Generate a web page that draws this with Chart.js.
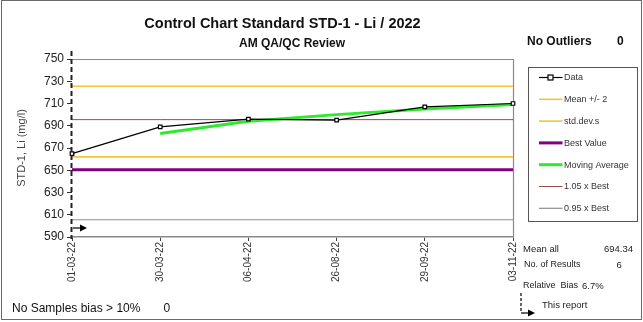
<!DOCTYPE html>
<html>
<head>
<meta charset="utf-8">
<script src="https://cdn.jsdelivr.net/npm/chart.js@4/dist/chart.umd.min.js"></script>
<style>
  html, body { margin: 0; padding: 0; background: #fff; }
  #wrap { position: relative; width: 643px; height: 322px; overflow: hidden; font-family: "Liberation Sans", Arial, sans-serif; color: #111; }
  #c { position: absolute; left: 0; top: 0; }
  .t { position: absolute; white-space: pre; line-height: 1; }
  .s { font-size: 9px; color: #222; }
</style>
</head>
<body>
<div id="wrap">
  <canvas id="c" width="643" height="322"></canvas>
  <div class="t" style="left:0;width:565px;text-align:center;top:15.5px;font-size:14.5px;font-weight:bold;">Control Chart Standard STD-1 - Li / 2022</div>
  <div class="t" style="left:0;width:584px;text-align:center;top:37px;font-size:12px;font-weight:bold;">AM QA/QC Review</div>
  <div class="t" style="left:527px;top:35px;font-size:12px;font-weight:bold;">No Outliers</div>
  <div class="t" style="left:617px;top:35px;font-size:12px;font-weight:bold;">0</div>
  <div class="t s" style="left:523px;top:244px;font-size:9.5px;">Mean all</div>
  <div class="t s" style="right:10px;top:244px;font-size:9.5px;">694.34</div>
  <div class="t s" style="left:524px;top:260px;">No. of Results</div>
  <div class="t s" style="left:616.5px;top:260px;font-size:9.5px;">6</div>
  <div class="t s" style="left:523px;top:280.5px;">Relative  Bias</div>
  <div class="t s" style="left:582px;top:280.5px;font-size:9.5px;">6.7%</div>
  <div class="t s" style="left:542px;top:300px;font-size:9.5px;">This report</div>
  <div class="t" style="left:12px;top:302px;font-size:12px;">No Samples bias &gt; 10%</div>
  <div class="t" style="left:163.5px;top:302px;font-size:12px;">0</div>
</div>
<script>
// ---- data ----
const categories = ['01-03-22', '30-03-22', '06-04-22', '26-08-22', '29-09-22', '03-11-22'];
const dataValues = [665, 689, 696, 695, 707, 710];
const movingAverage = [null, 683, 694, 700, 705, 709];
const meanPlus2sd = 725.5;
const meanMinus2sd = 662;
const bestValue = 650.5;
const best105 = 695.5;
const best095 = 605.5;
const yTicks = { min: 590, max: 750, step: 20 };

const flat = v => categories.map(() => v);

const FONT = '"Liberation Sans", Arial, sans-serif';

const datasets = [
  { label: 'Data', data: dataValues, borderColor: '#000', borderWidth: 1.2, order: 0,
    pointStyle: 'rect', pointRadius: 2.5, pointBackgroundColor: '#fff', pointBorderColor: '#000', pointBorderWidth: 1.2 },
  { label: 'Mean +/- 2', data: flat(meanPlus2sd), borderColor: '#F5C43C', borderWidth: 1.6, order: 3, pointRadius: 0 },
  { label: 'std.dev.s', data: flat(meanMinus2sd), borderColor: '#F5C43C', borderWidth: 1.6, order: 3, pointRadius: 0 },
  { label: 'Best Value', data: flat(bestValue), borderColor: '#800080', borderWidth: 3, order: 2, pointRadius: 0 },
  { label: 'Moving Average', data: movingAverage, borderColor: '#2EEA2E', borderWidth: 3, order: 1, pointRadius: 0 },
  { label: '1.05 x Best', data: flat(best105), borderColor: '#9A4A4A', borderWidth: 1, order: 4, pointRadius: 0 },
  { label: '0.95 x Best', data: flat(best095), borderColor: '#8C8C8C', borderWidth: 1.2, order: 4, pointRadius: 0 }
];

function arrow(ctx, x, y, len) {
  ctx.save();
  ctx.strokeStyle = '#000';
  ctx.fillStyle = '#000';
  ctx.lineWidth = 1.2;
  ctx.beginPath();
  ctx.moveTo(x, y);
  ctx.lineTo(x + len - 5, y);
  ctx.stroke();
  ctx.beginPath();
  ctx.moveTo(x + len, y);
  ctx.lineTo(x + len - 7, y - 3.5);
  ctx.lineTo(x + len - 7, y + 3.5);
  ctx.closePath();
  ctx.fill();
  ctx.restore();
}

const decor = {
  id: 'decor',
  beforeDraw(chart) {
    const { ctx, chartArea: a } = chart;
    ctx.save();
    ctx.fillStyle = '#fff';
    ctx.fillRect(0, 0, chart.width, chart.height);
    ctx.strokeStyle = '#6a6a6a';
    ctx.lineWidth = 1;
    ctx.strokeRect(1.5, 0.5, 640, 319);
    ctx.strokeStyle = '#8a8a8a';
    ctx.lineWidth = 1.2;
    ctx.beginPath();
    ctx.moveTo(a.left, a.top + 0.5);
    ctx.lineTo(a.right + 0.5, a.top + 0.5);
    ctx.lineTo(a.right + 0.5, a.bottom);
    ctx.stroke();
    ctx.restore();
  },
  afterDraw(chart) {
    const { ctx, chartArea: a } = chart;
    // dashed y axis line
    ctx.save();
    ctx.strokeStyle = '#222';
    ctx.lineWidth = 2;
    ctx.setLineDash([5, 3]);
    ctx.beginPath();
    ctx.moveTo(a.left - 0.5, a.top - 8);
    ctx.lineTo(a.left - 0.5, a.bottom + 2);
    ctx.stroke();
    ctx.restore();

    arrow(ctx, a.left + 1, a.bottom - 9, 14);

    const lx = a.right + 15.5, ly = 67.5, lw = 109, lh = 154;
    ctx.save();
    ctx.strokeStyle = '#555';
    ctx.lineWidth = 1;
    ctx.strokeRect(lx, ly, lw, lh);
    ctx.font = '9px ' + FONT;
    ctx.textBaseline = 'middle';
    chart.data.datasets.forEach((ds, i) => {
      const y = 77.5 + i * 21.8;
      ctx.strokeStyle = ds.borderColor;
      ctx.lineWidth = ds.borderWidth;
      ctx.beginPath();
      ctx.moveTo(lx + 10.5, y);
      ctx.lineTo(lx + 34, y);
      ctx.stroke();
      if (ds.pointStyle === 'rect') {
        ctx.fillStyle = '#fff';
        ctx.fillRect(lx + 19.5, y - 2.5, 5, 5);
        ctx.strokeStyle = '#000';
        ctx.lineWidth = 1.2;
        ctx.strokeRect(lx + 19.5, y - 2.5, 5, 5);
      }
      ctx.fillStyle = '#333';
      ctx.fillText(ds.label, lx + 35.5, y + 0.5);
    });
    ctx.restore();

    ctx.save();
    ctx.strokeStyle = '#000';
    ctx.lineWidth = 1.2;
    ctx.setLineDash([3, 2]);
    ctx.beginPath();
    ctx.moveTo(521, 293);
    ctx.lineTo(521, 312);
    ctx.stroke();
    ctx.restore();
    arrow(ctx, 521, 313, 14);
  }
};

new Chart(document.getElementById('c'), {
  type: 'line',
  data: { labels: categories, datasets },
  options: {
    responsive: false,
    animation: false,
    layout: { padding: { left: 0, right: 130, top: 59, bottom: 0 } },
    plugins: { legend: { display: false }, tooltip: { enabled: false }, title: { display: false } },
    elements: { line: { tension: 0, fill: false } },
    scales: {
      x: {
        type: 'category',
        offset: false,
        afterFit(s) { s.height = 85; },
        grid: { drawOnChartArea: false, drawTicks: true, tickLength: 4, color: '#444' },
        border: { display: true, color: '#8a8a8a', width: 1.5 },
        ticks: { minRotation: 90, maxRotation: 90, autoSkip: false, padding: 1,
                 font: { family: FONT, size: 10 }, color: '#333' }
      },
      y: {
        min: yTicks.min, max: yTicks.max,
        afterFit(s) { s.width = 72; },
        grid: { drawOnChartArea: false, drawTicks: true, tickLength: 5, color: '#333' },
        border: { display: false },
        ticks: { stepSize: yTicks.step, padding: 3, font: { family: FONT, size: 12 }, color: '#222' },
        title: { display: true, text: 'STD-1, Li (mg/l)', font: { family: FONT, size: 11 }, color: '#444',
                 padding: { top: 15, bottom: 0 } }
      }
    }
  },
  plugins: [decor]
});
</script>
</body>
</html>
